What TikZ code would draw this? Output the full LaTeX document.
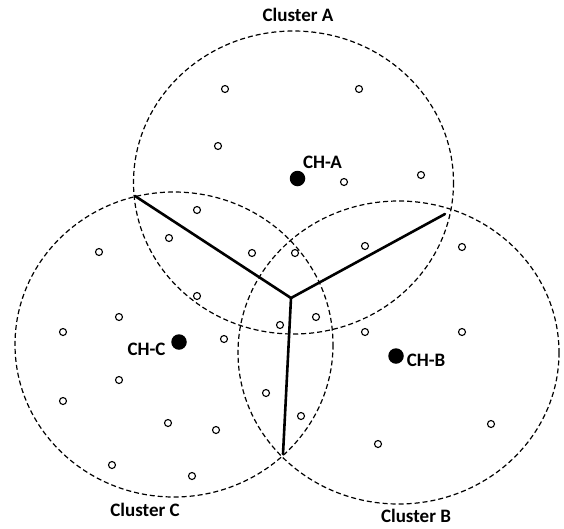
\documentclass[tikz,border=0pt]{standalone}
\usepackage{fontspec}
\setmainfont{Carlito}
\begin{document}
\begin{tikzpicture}[x=1pt,y=-1pt,
  clus/.style={draw=black,line width=1.2pt,dash pattern=on 5pt off 3pt},
  sensor/.style={circle,draw=black,line width=1.1pt,fill=white,minimum size=7pt,inner sep=0pt},
  head/.style={circle,fill=black,minimum size=15.5pt,inner sep=0pt},
  lbl/.style={font=\fontsize{19}{21}\selectfont\bfseries,inner sep=0pt,anchor=base},
  border/.style={line width=2.6pt,line cap=round}]
\useasboundingbox (0,0) rectangle (564,528);
% cluster areas
\coordinate (cA) at (293.5,182.5);
\coordinate (cB) at (398.5,352.5);
\coordinate (cC) at (174,344.5);
\draw[clus] (cA) ellipse [x radius=160, y radius=151.5];
\draw[clus] (cB) ellipse [x radius=160.5, y radius=151.5];
\draw[clus] (cC) ellipse [x radius=159, y radius=152.5];
% boundaries
\coordinate (J) at (291,298);
\coordinate (P1) at (135,196);
\coordinate (P2) at (445,214);
\coordinate (P3) at (283,454);
\draw[border] (J) -- (P1);
\draw[border] (J) -- (P2);
\draw[border] (J) -- (P3);
% sensor nodes
\foreach \n/\x/\y in {1/225/89, 2/218/146, 3/359/89, 4/344/182, 5/421/175,
  6/197/210, 7/169/238, 8/252/253, 9/295/253, 10/99/252, 11/365/246, 12/462/247,
  13/197/296, 14/119/317, 15/63/332, 16/224/339, 17/280/325, 18/316/317,
  19/119/380, 20/63/401, 21/266/393, 22/168/423, 23/216/430, 24/112/465,
  25/192/476, 26/365/332, 27/462/332, 28/301/416, 29/491/424, 30/378/444}
  \node[sensor] (s\n) at (\x,\y) {};
% cluster heads
\node[head] (hA) at (297.5,178.5) {};
\node[head] (hB) at (396,356) {};
\node[head] (hC) at (179,342) {};
\node[lbl] (tCHA) at (322.5,168) {CH-A};
\node[lbl] (tCHB) at (426,366.5) {CH-B};
\node[lbl] (tCHC) at (146.5,355) {CH-C};
% cluster labels
\node[lbl] (tA) at (298,21) {Cluster A};
\node[lbl] (tB) at (416,522) {Cluster B};
\node[lbl] (tC) at (145,516) {Cluster C};
\end{tikzpicture}
\end{document}
